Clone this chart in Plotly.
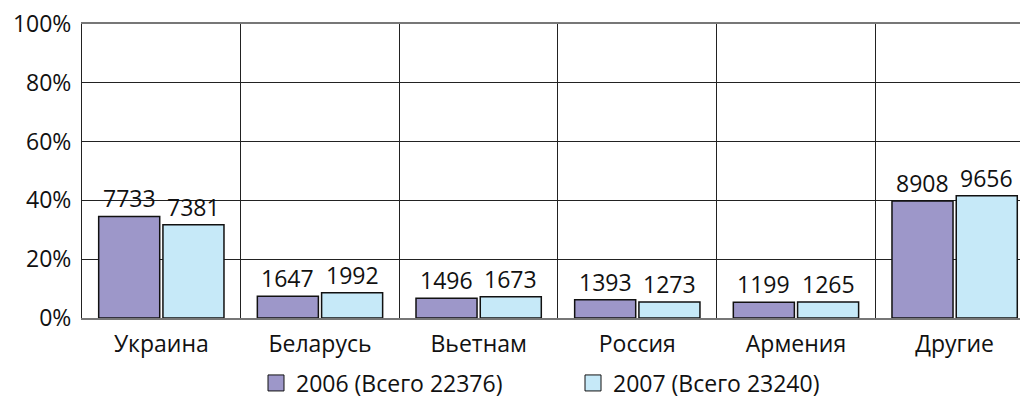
import plotly.graph_objects as go

categories = ["Украина", "Беларусь", "Вьетнам", "Россия", "Армения", "Другие"]
values_2006 = [7733, 1647, 1496, 1393, 1199, 8908]
values_2007 = [7381, 1992, 1673, 1273, 1265, 9656]
total_2006 = 22376
total_2007 = 23240
series_names = ["2006 (Всего 22376)", "2007 (Всего 23240)"]
y_ticks = [0, 20, 40, 60, 80, 100]
y_tick_labels = ["0%", "20%", "40%", "60%", "80%", "100%"]

FONT = "Open Sans"
FS = 23
COLORS = ["#9d97c9", "#c6e9f8"]
BARGAP = 0.19
GROUPGAP = 0.05
W, H = 1020, 400

pct_2006 = [v / total_2006 * 100 for v in values_2006]
pct_2007 = [v / total_2007 * 100 for v in values_2007]
xpos = list(range(len(categories)))

fig = go.Figure()
series = [(values_2006, pct_2006), (values_2007, pct_2007)]
for k, (vals, pcts) in enumerate(series):
    fig.add_trace(go.Bar(
        x=xpos, y=pcts, name=series_names[k], showlegend=False,
        marker=dict(color=COLORS[k], line=dict(color="#111111", width=1.5)),
    ))

# value labels above bars (centres derived from grouping parameters)
slot = (1 - BARGAP) / 2
for k, (vals, pcts) in enumerate(series):
    off = (k - 0.5) * slot
    for i, (v, p) in enumerate(zip(vals, pcts)):
        fig.add_annotation(x=i + off, y=p, xref="x", yref="y", text=str(v),
                           showarrow=False, yanchor="bottom", yshift=0,
                           font=dict(family=FONT, size=FS, color="#111111"))

# legend entries (square swatches)
for k in range(2):
    fig.add_trace(go.Scatter(
        x=[None], y=[None], mode="markers", name=series_names[k],
        marker=dict(symbol="square", size=16, color=COLORS[k],
                    line=dict(color="#111111", width=1)),
    ))

fig.update_layout(
    width=W, height=H,
    margin=dict(l=82, r=0, t=24, b=82, autoexpand=False),
    paper_bgcolor="white", plot_bgcolor="white",
    barmode="group", bargap=BARGAP, bargroupgap=GROUPGAP,
    font=dict(family=FONT, size=FS, color="#111111"),
    showlegend=True,
    legend=dict(orientation="h", xref="container", x=256 / W, xanchor="left",
                yref="container", y=1 - 383 / H, yanchor="middle",
                font=dict(family=FONT, size=FS), traceorder="normal",
                entrywidth=272, entrywidthmode="pixels"),
)
fig.update_xaxes(
    range=[-0.5, 5.412], tickmode="array", tickvals=xpos, ticktext=categories,
    showgrid=False, ticks="", showline=True, mirror=True, automargin=False,
    linecolor="#777777", linewidth=2, ticklabelstandoff=4,
    minor=dict(tickmode="linear", tick0=-0.5, dtick=1, showgrid=True,
               gridcolor="#222222", gridwidth=1, ticks=""),
    tickfont=dict(family=FONT, size=FS),
)
fig.update_yaxes(
    range=[0, 100], tickmode="array", tickvals=y_ticks, ticktext=y_tick_labels,
    showgrid=True, gridcolor="#222222", gridwidth=1, zeroline=False,
    showline=True, linecolor="#222222", linewidth=1, ticks="", automargin=False,
    ticklabelstandoff=5, ticklabeloverflow="allow",
    tickfont=dict(family=FONT, size=FS),
)

fig.write_html(
    "out.html",
    config={"displayModeBar": False},
    post_script="document.body.style.margin='0';document.body.style.overflow='hidden';",
)
